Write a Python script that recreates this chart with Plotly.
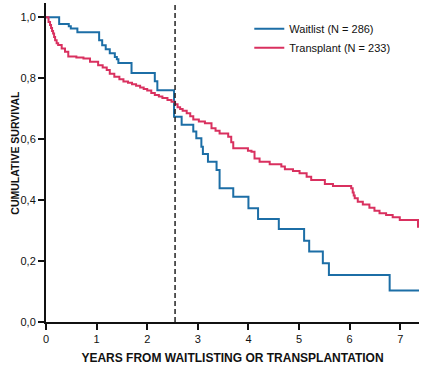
import plotly.graph_objects as go

# ---- data ----
waitlist_years = [0, 0.26, 0.45, 0.49, 0.62, 1.05, 1.11, 1.18, 1.26, 1.36, 1.40, 1.43, 1.69,
                  2.15, 2.20, 2.53, 2.68, 2.91, 2.97, 3.07, 3.10, 3.20, 3.37, 3.43, 3.70,
                  4.00, 4.19, 4.60, 5.10, 5.20, 5.47, 5.59, 6.79, 7.37]
waitlist_surv = [1.0, 0.978, 0.971, 0.963, 0.951, 0.925, 0.908, 0.895, 0.882, 0.870, 0.862, 0.850, 0.817,
                 0.79, 0.761, 0.674, 0.647, 0.625, 0.603, 0.575, 0.551, 0.526, 0.499, 0.439, 0.411,
                 0.373, 0.338, 0.305, 0.267, 0.231, 0.193, 0.154, 0.103, 0.103]

transplant_years = [0, 0.05, 0.08, 0.10, 0.12, 0.14, 0.16, 0.18, 0.21, 0.24, 0.31, 0.375, 0.44, 0.60,
                    0.74, 0.87, 1.03, 1.12, 1.20, 1.26, 1.35, 1.45, 1.53, 1.62, 1.70, 1.78, 1.86,
                    1.93, 2.00, 2.08, 2.15, 2.23, 2.30, 2.40, 2.48, 2.55, 2.60, 2.65, 2.70, 2.78,
                    2.85, 2.91, 3.02, 3.14, 3.27, 3.35, 3.43, 3.60, 3.66, 3.70, 3.99, 4.06, 4.12,
                    4.22, 4.42, 4.65, 4.72, 4.88, 5.01, 5.15, 5.24, 5.51, 5.67, 6.03, 6.06, 6.08,
                    6.10, 6.16, 6.26, 6.39, 6.49, 6.59, 6.72, 6.85, 6.99, 7.35, 7.37]
transplant_surv = [1.0, 0.985, 0.975, 0.965, 0.955, 0.947, 0.935, 0.925, 0.915, 0.909, 0.898, 0.887, 0.871, 0.868,
                   0.865, 0.854, 0.843, 0.835, 0.827, 0.815, 0.805, 0.797, 0.789, 0.785, 0.780, 0.775, 0.770,
                   0.765, 0.760, 0.752, 0.745, 0.740, 0.735, 0.729, 0.723, 0.715, 0.705, 0.699, 0.693, 0.685,
                   0.675, 0.665, 0.658, 0.652, 0.636, 0.628, 0.619, 0.608, 0.590, 0.570, 0.562, 0.559, 0.537,
                   0.526, 0.518, 0.510, 0.501, 0.496, 0.488, 0.477, 0.466, 0.453, 0.446, 0.439, 0.425, 0.415,
                   0.406, 0.395, 0.386, 0.375, 0.365, 0.357, 0.351, 0.344, 0.335, 0.313, 0.313]

series_names = ["Waitlist (N = 286)", "Transplant (N = 233)"]
landmark_year = 2.55
x_ticks = [0, 1, 2, 3, 4, 5, 6, 7]
y_ticks = [0.0, 0.2, 0.4, 0.6, 0.8, 1.0]
x_title = "YEARS FROM WAITLISTING OR TRANSPLANTATION"
y_title = "CUMULATIVE SURVIVAL"

BLUE = "#1c6ea6"
RED = "#d9305f"
FONT = "Liberation Sans, Arial, Helvetica, sans-serif"

fig = go.Figure()
fig.add_trace(go.Scatter(x=waitlist_years, y=waitlist_surv, mode="lines", line_shape="hv",
                         line=dict(color=BLUE, width=2), name=series_names[0]))
fig.add_trace(go.Scatter(x=transplant_years, y=transplant_surv, mode="lines", line_shape="hv",
                         line=dict(color=RED, width=2), name=series_names[1]))

fig.add_shape(type="line", xref="x", yref="paper", x0=landmark_year, x1=landmark_year,
              y0=0, y1=1, line=dict(color="#222", width=1.5, dash="5px,3px"))

fig.add_annotation(text="<b>" + y_title + "</b>", textangle=-90, xref="paper", yref="paper",
                   x=-0.083, y=0.531, xanchor="center", yanchor="middle", showarrow=False,
                   font=dict(size=10.5, family=FONT, color="#111"))

fig.update_layout(
    width=421, height=366,
    margin=dict(l=46, r=2, t=3, b=44, autoexpand=False),
    paper_bgcolor="white", plot_bgcolor="white",
    separators=",.",
    font=dict(family=FONT, size=11, color="#111"),
    showlegend=True,
    legend=dict(x=0.545, y=0.965, xanchor="left", yanchor="top", bgcolor="rgba(0,0,0,0)",
                font=dict(size=11), tracegroupgap=0, itemwidth=30),
    xaxis=dict(range=[0, 7.37], tickvals=x_ticks, ticks="outside", ticklen=6, tickwidth=1.5,
               tickcolor="#111", showline=True, linecolor="#111", linewidth=2, showgrid=False,
               zeroline=False, automargin=False,
               title=dict(text="<b>" + x_title + "</b>", font=dict(size=12), standoff=9)),
    yaxis=dict(range=[0, 1.047], tickvals=y_ticks, tickformat=".1f", ticks="outside", ticklen=6,
               tickwidth=1.5, tickcolor="#111", showline=True, linecolor="#111", linewidth=2,
               showgrid=False, zeroline=False, automargin=False),
)

fig.write_html("out.html", config={"displayModeBar": False},
               post_script="document.body.style.margin='0';document.body.style.overflow='hidden';")
